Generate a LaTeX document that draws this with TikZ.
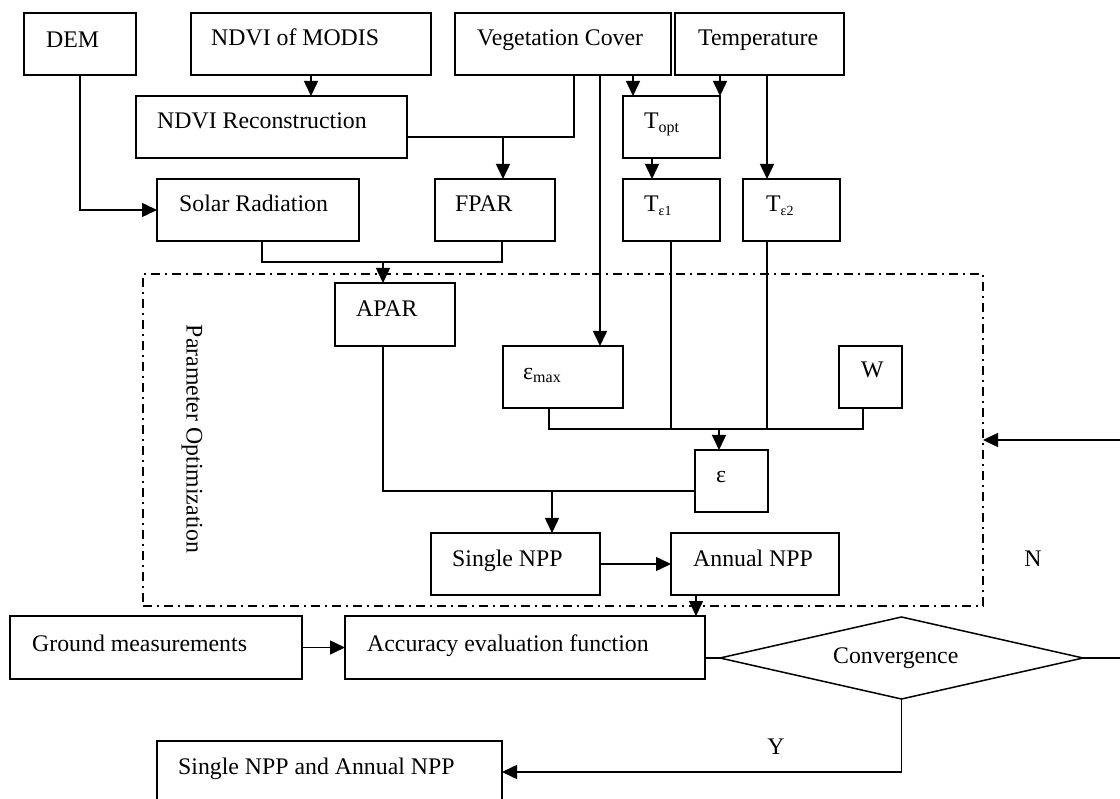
\documentclass[tikz,border=0pt]{standalone}
\usepackage{fontspec}
\setmainfont{Liberation Serif}
\usetikzlibrary{arrows.meta,shapes.geometric}
\begin{document}
\begin{tikzpicture}[x=1pt,y=-1pt,
  box/.style={draw, line width=1.5pt, inner sep=0pt, outer sep=0pt, anchor=north west},
  lbl/.style={font=\fontsize{23.8}{28}\selectfont, inner sep=0pt, anchor=base west},
  con/.style={line width=1.5pt},
  arr/.style={line width=1.5pt, -{Triangle[length=15pt,width=14pt]}},
  pobox/.style={draw, line width=1.4pt, dash pattern=on 9pt off 5pt on 2pt off 5pt, inner sep=0pt, outer sep=0pt, anchor=north west}
]
\useasboundingbox (0,0) rectangle (1120,799);
\clip (0,0) rectangle (1120,799);

% boxes
\node[box, minimum width=112pt, minimum height=62pt] (dem) at (24,13) {};
\node[box, minimum width=240pt, minimum height=62pt] (modis) at (191,13) {};
\node[box, minimum width=216pt, minimum height=62pt] (veg) at (455,13) {};
\node[box, minimum width=169pt, minimum height=62pt] (temp) at (675,13) {};
\node[box, minimum width=271pt, minimum height=62pt] (recon) at (136,96) {};
\node[box, minimum width=97pt, minimum height=62pt] (topt) at (623,96) {};
\node[box, minimum width=202pt, minimum height=62pt] (solar) at (157,179) {};
\node[box, minimum width=120pt, minimum height=62pt] (fpar) at (435,179) {};
\node[box, minimum width=97pt, minimum height=62pt] (te1) at (623,179) {};
\node[box, minimum width=97pt, minimum height=62pt] (te2) at (743,179) {};
\node[pobox, minimum width=840pt, minimum height=332pt] (po) at (143,274) {};
\node[box, minimum width=120pt, minimum height=63pt] (apar) at (335,283) {};
\node[box, minimum width=120pt, minimum height=62pt] (emax) at (503,346) {};
\node[box, minimum width=63pt, minimum height=62pt] (w) at (839,346) {};
\node[box, minimum width=73pt, minimum height=62pt] (eps) at (695,450) {};
\node[box, minimum width=169pt, minimum height=62pt] (snpp) at (431,533) {};
\node[box, minimum width=168pt, minimum height=62pt] (anpp) at (671,533) {};
\node[box, minimum width=292pt, minimum height=63pt] (ground) at (10,616) {};
\node[box, minimum width=360pt, minimum height=63pt] (acc) at (345,616) {};
\node[box, minimum width=345pt, minimum height=62pt] (sa) at (157,741) {};
\node[draw, diamond, line width=1.5pt, minimum width=363pt, minimum height=82pt, inner sep=0pt, outer sep=0pt] (conv) at (901.5,658) {};

% labels
\node[lbl] (tdem) at (46,48) {DEM};
\node[lbl] (tmodis) at (211,46) {NDVI of MODIS};
\node[lbl] (tveg) at (477,46) {Vegetation Cover};
\node[lbl] (ttemp) at (698,46) {Temperature};
\node[lbl] (trecon) at (157,129) {NDVI Reconstruction};
\node[lbl] (ttopt) at (644,129) {T\raisebox{-4pt}{\fontsize{16}{16}\selectfont opt}};
\node[lbl] (tsolar) at (179,212) {Solar Radiation};
\node[lbl] (tfpar) at (455,212) {FPAR};
\node[lbl] (tte1) at (644,212) {T\raisebox{-4pt}{\fontsize{14}{14}\selectfont ε1}};
\node[lbl] (tte2) at (766,212) {T\raisebox{-4pt}{\fontsize{14}{14}\selectfont ε2}};
\node[lbl] (tapar) at (356,317) {APAR};
\node[lbl] (temax) at (523,380) {ε\raisebox{-3pt}{\fontsize{16}{16}\selectfont max}};
\node[lbl] (tw) at (861,378) {W};
\node[lbl] (teps) at (716,483) {ε};
\node[lbl] (tsnpp) at (452,566) {Single NPP};
\node[lbl] (tanpp) at (693,566) {Annual NPP};
\node[lbl] (tground) at (32,651) {Ground measurements};
\node[lbl] (tacc) at (367,651) {Accuracy evaluation function};
\node[lbl] (tsa) at (178,774) {Single NPP and Annual NPP};
\node[lbl] (tconv) at (833,663) {Convergence};
\node[lbl, anchor=base] (ty) at (776,754) {Y};
\node[lbl, anchor=base] (tn) at (1033,566) {N};
\node[font=\fontsize{23.8}{28}\selectfont, inner sep=0pt, rotate=-90] (tpo) at (192,439) {Parameter Optimization};

% junction coordinates
\coordinate (j137) at (574,137);
\coordinate (jf) at (503,137);
\coordinate (jv) at (600,0);
\coordinate (c633) at (633,0);
\coordinate (c652) at (652,0);
\coordinate (c671) at (671,0);
\coordinate (c767) at (767,0);
\coordinate (jsa) at (262,262);
\coordinate (jsb) at (502,262);
\coordinate (ja) at (383,262);
\coordinate (jb1) at (549,429);
\coordinate (jb4) at (863,429);
\coordinate (je) at (719,429);
\coordinate (jap) at (383,491);
\coordinate (js) at (552,491);
\coordinate (c696) at (696,0);
\coordinate (cr) at (1123,440);

% connectors
\draw[arr] (dem.south) |- (solar.west);
\draw[arr] (modis.south) -- (modis.south |- recon.north);
\draw[con] (recon.east |- j137) -- (j137) -- (j137 |- veg.south);
\draw[arr] (jf) -- (jf |- fpar.north);
\draw[arr] (jv |- veg.south) -- (jv |- emax.north);
\draw[arr] (c633 |- veg.south) -- (c633 |- topt.north);
\draw[arr] (topt.north east |- temp.south) -- (topt.north east);
\draw[arr] (c652 |- topt.south) -- (c652 |- te1.north);
\draw[arr] (c767 |- temp.south) -- (c767 |- te2.north);
\draw[con] (jsa |- solar.south) -- (jsa) -- (jsb) -- (jsb |- fpar.south);
\draw[arr] (ja) -- (ja |- apar.north);
\draw[con] (jb1 |- emax.south) -- (jb1) -- (jb4) -- (jb4 |- w.south);
\draw[con] (c671 |- te1.south) -- (c671 |- jb1);
\draw[con] (c767 |- te2.south) -- (c767 |- jb1);
\draw[arr] (je) -- (je |- eps.north);
\draw[con] (jap |- apar.south) -- (jap) -- (jap -| eps.west);
\draw[arr] (js) -- (js |- snpp.north);
\draw[arr] (snpp.east) -- (anpp.west);
\draw[arr] (c696 |- anpp.south) -- (c696 |- acc.north);
\draw[arr] (ground.east) -- (acc.west);
\draw[con] (acc.east |- conv.west) -- (conv.west);
\draw[arr] (conv.south) |- (sa.east);
\draw[arr] (conv.east) -- (conv.east -| cr) -- (cr) -- (po.east);
\end{tikzpicture}
\end{document}
